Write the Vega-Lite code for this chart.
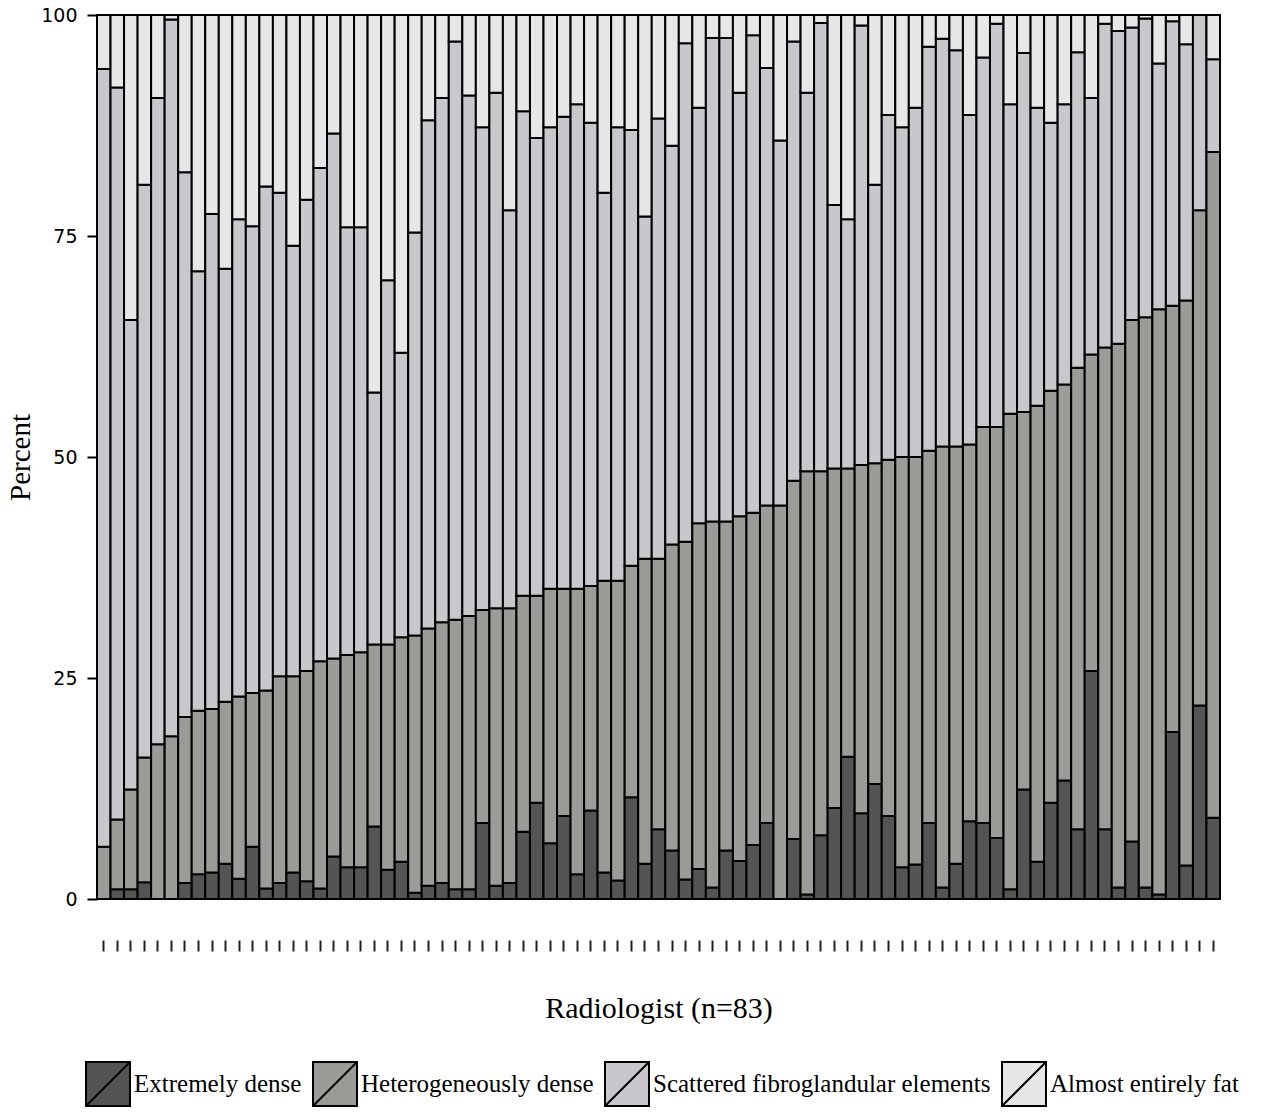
{
  "$schema": "https://vega.github.io/schema/vega-lite/v6.json",
  "width": 1123,
  "height": 884,
  "autosize": {"type": "none"},
  "padding": {"left": 97, "top": 15, "right": 43, "bottom": 214},
  "background": "white",
  "config": {
    "view": {"stroke": "black", "strokeWidth": 2},
    "axis": {"labelColor": "black", "titleColor": "black", "titleFontWeight": "normal", "grid": false}
  },
  "datasets": {
    "cats": [
      {"cat": "Extremely dense", "k": 1},
      {"cat": "Heterogeneously dense", "k": 2},
      {"cat": "Scattered fibroglandular elements", "k": 3},
      {"cat": "Almost entirely fat", "k": 4}
    ]
  },
  "data": {
    "values": [
      {"r":1,"Extremely dense":0,"Heterogeneously dense":5.9,"Scattered fibroglandular elements":88.0,"Almost entirely fat":6.1},
      {"r":2,"Extremely dense":1.1,"Heterogeneously dense":7.9,"Scattered fibroglandular elements":82.8,"Almost entirely fat":8.2},
      {"r":3,"Extremely dense":1.1,"Heterogeneously dense":11.3,"Scattered fibroglandular elements":53.1,"Almost entirely fat":34.5},
      {"r":4,"Extremely dense":1.9,"Heterogeneously dense":14.1,"Scattered fibroglandular elements":64.8,"Almost entirely fat":19.2},
      {"r":5,"Extremely dense":0,"Heterogeneously dense":17.5,"Scattered fibroglandular elements":73.1,"Almost entirely fat":9.4},
      {"r":6,"Extremely dense":0,"Heterogeneously dense":18.4,"Scattered fibroglandular elements":81.1,"Almost entirely fat":0.5},
      {"r":7,"Extremely dense":1.8,"Heterogeneously dense":18.8,"Scattered fibroglandular elements":61.6,"Almost entirely fat":17.8},
      {"r":8,"Extremely dense":2.8,"Heterogeneously dense":18.5,"Scattered fibroglandular elements":49.7,"Almost entirely fat":29.0},
      {"r":9,"Extremely dense":3.0,"Heterogeneously dense":18.5,"Scattered fibroglandular elements":56.0,"Almost entirely fat":22.5},
      {"r":10,"Extremely dense":4.0,"Heterogeneously dense":18.3,"Scattered fibroglandular elements":49.0,"Almost entirely fat":28.7},
      {"r":11,"Extremely dense":2.3,"Heterogeneously dense":20.6,"Scattered fibroglandular elements":54.0,"Almost entirely fat":23.1},
      {"r":12,"Extremely dense":5.9,"Heterogeneously dense":17.4,"Scattered fibroglandular elements":52.8,"Almost entirely fat":23.9},
      {"r":13,"Extremely dense":1.2,"Heterogeneously dense":22.4,"Scattered fibroglandular elements":57.0,"Almost entirely fat":19.4},
      {"r":14,"Extremely dense":1.8,"Heterogeneously dense":23.4,"Scattered fibroglandular elements":54.7,"Almost entirely fat":20.1},
      {"r":15,"Extremely dense":3.0,"Heterogeneously dense":22.2,"Scattered fibroglandular elements":48.7,"Almost entirely fat":26.1},
      {"r":16,"Extremely dense":2.0,"Heterogeneously dense":23.8,"Scattered fibroglandular elements":53.3,"Almost entirely fat":20.9},
      {"r":17,"Extremely dense":1.2,"Heterogeneously dense":25.7,"Scattered fibroglandular elements":55.8,"Almost entirely fat":17.3},
      {"r":18,"Extremely dense":4.8,"Heterogeneously dense":22.4,"Scattered fibroglandular elements":59.4,"Almost entirely fat":13.4},
      {"r":19,"Extremely dense":3.6,"Heterogeneously dense":24.0,"Scattered fibroglandular elements":48.4,"Almost entirely fat":24.0},
      {"r":20,"Extremely dense":3.6,"Heterogeneously dense":24.3,"Scattered fibroglandular elements":48.1,"Almost entirely fat":24.0},
      {"r":21,"Extremely dense":8.2,"Heterogeneously dense":20.6,"Scattered fibroglandular elements":28.5,"Almost entirely fat":42.7},
      {"r":22,"Extremely dense":3.3,"Heterogeneously dense":25.5,"Scattered fibroglandular elements":41.2,"Almost entirely fat":30.0},
      {"r":23,"Extremely dense":4.2,"Heterogeneously dense":25.4,"Scattered fibroglandular elements":32.2,"Almost entirely fat":38.2},
      {"r":24,"Extremely dense":0.7,"Heterogeneously dense":29.1,"Scattered fibroglandular elements":45.6,"Almost entirely fat":24.6},
      {"r":25,"Extremely dense":1.5,"Heterogeneously dense":29.1,"Scattered fibroglandular elements":57.5,"Almost entirely fat":11.9},
      {"r":26,"Extremely dense":1.8,"Heterogeneously dense":29.5,"Scattered fibroglandular elements":59.3,"Almost entirely fat":9.4},
      {"r":27,"Extremely dense":1.1,"Heterogeneously dense":30.5,"Scattered fibroglandular elements":65.4,"Almost entirely fat":3.0},
      {"r":28,"Extremely dense":1.1,"Heterogeneously dense":30.9,"Scattered fibroglandular elements":58.9,"Almost entirely fat":9.1},
      {"r":29,"Extremely dense":8.6,"Heterogeneously dense":24.1,"Scattered fibroglandular elements":54.6,"Almost entirely fat":12.7},
      {"r":30,"Extremely dense":1.5,"Heterogeneously dense":31.4,"Scattered fibroglandular elements":58.3,"Almost entirely fat":8.8},
      {"r":31,"Extremely dense":1.8,"Heterogeneously dense":31.1,"Scattered fibroglandular elements":45.0,"Almost entirely fat":22.1},
      {"r":32,"Extremely dense":7.6,"Heterogeneously dense":26.7,"Scattered fibroglandular elements":54.8,"Almost entirely fat":10.9},
      {"r":33,"Extremely dense":10.9,"Heterogeneously dense":23.4,"Scattered fibroglandular elements":51.8,"Almost entirely fat":13.9},
      {"r":34,"Extremely dense":6.3,"Heterogeneously dense":28.8,"Scattered fibroglandular elements":52.2,"Almost entirely fat":12.7},
      {"r":35,"Extremely dense":9.4,"Heterogeneously dense":25.7,"Scattered fibroglandular elements":53.4,"Almost entirely fat":11.5},
      {"r":36,"Extremely dense":2.8,"Heterogeneously dense":32.3,"Scattered fibroglandular elements":54.8,"Almost entirely fat":10.1},
      {"r":37,"Extremely dense":10.0,"Heterogeneously dense":25.4,"Scattered fibroglandular elements":52.4,"Almost entirely fat":12.2},
      {"r":38,"Extremely dense":3.0,"Heterogeneously dense":33.0,"Scattered fibroglandular elements":43.9,"Almost entirely fat":20.1},
      {"r":39,"Extremely dense":2.1,"Heterogeneously dense":33.9,"Scattered fibroglandular elements":51.3,"Almost entirely fat":12.7},
      {"r":40,"Extremely dense":11.5,"Heterogeneously dense":26.2,"Scattered fibroglandular elements":49.3,"Almost entirely fat":13.0},
      {"r":41,"Extremely dense":4.0,"Heterogeneously dense":34.5,"Scattered fibroglandular elements":38.7,"Almost entirely fat":22.8},
      {"r":42,"Extremely dense":7.9,"Heterogeneously dense":30.6,"Scattered fibroglandular elements":49.8,"Almost entirely fat":11.7},
      {"r":43,"Extremely dense":5.5,"Heterogeneously dense":34.6,"Scattered fibroglandular elements":45.1,"Almost entirely fat":14.8},
      {"r":44,"Extremely dense":2.2,"Heterogeneously dense":38.2,"Scattered fibroglandular elements":56.4,"Almost entirely fat":3.2},
      {"r":45,"Extremely dense":3.4,"Heterogeneously dense":39.1,"Scattered fibroglandular elements":47.0,"Almost entirely fat":10.5},
      {"r":46,"Extremely dense":1.3,"Heterogeneously dense":41.4,"Scattered fibroglandular elements":54.7,"Almost entirely fat":2.6},
      {"r":47,"Extremely dense":5.5,"Heterogeneously dense":37.2,"Scattered fibroglandular elements":54.7,"Almost entirely fat":2.6},
      {"r":48,"Extremely dense":4.3,"Heterogeneously dense":39.0,"Scattered fibroglandular elements":47.9,"Almost entirely fat":8.8},
      {"r":49,"Extremely dense":6.1,"Heterogeneously dense":37.6,"Scattered fibroglandular elements":54.0,"Almost entirely fat":2.3},
      {"r":50,"Extremely dense":8.6,"Heterogeneously dense":35.9,"Scattered fibroglandular elements":49.5,"Almost entirely fat":6.0},
      {"r":51,"Extremely dense":0,"Heterogeneously dense":44.5,"Scattered fibroglandular elements":41.3,"Almost entirely fat":14.2},
      {"r":52,"Extremely dense":6.8,"Heterogeneously dense":40.5,"Scattered fibroglandular elements":49.7,"Almost entirely fat":3.0},
      {"r":53,"Extremely dense":0.5,"Heterogeneously dense":47.9,"Scattered fibroglandular elements":42.8,"Almost entirely fat":8.8},
      {"r":54,"Extremely dense":7.2,"Heterogeneously dense":41.2,"Scattered fibroglandular elements":50.7,"Almost entirely fat":0.9},
      {"r":55,"Extremely dense":10.3,"Heterogeneously dense":38.4,"Scattered fibroglandular elements":29.8,"Almost entirely fat":21.5},
      {"r":56,"Extremely dense":16.1,"Heterogeneously dense":32.6,"Scattered fibroglandular elements":28.2,"Almost entirely fat":23.1},
      {"r":57,"Extremely dense":9.7,"Heterogeneously dense":39.4,"Scattered fibroglandular elements":49.7,"Almost entirely fat":1.2},
      {"r":58,"Extremely dense":13.0,"Heterogeneously dense":36.3,"Scattered fibroglandular elements":31.5,"Almost entirely fat":19.2},
      {"r":59,"Extremely dense":9.4,"Heterogeneously dense":40.3,"Scattered fibroglandular elements":39.0,"Almost entirely fat":11.3},
      {"r":60,"Extremely dense":3.6,"Heterogeneously dense":46.4,"Scattered fibroglandular elements":37.3,"Almost entirely fat":12.7},
      {"r":61,"Extremely dense":3.9,"Heterogeneously dense":46.1,"Scattered fibroglandular elements":39.5,"Almost entirely fat":10.5},
      {"r":62,"Extremely dense":8.6,"Heterogeneously dense":42.1,"Scattered fibroglandular elements":45.7,"Almost entirely fat":3.6},
      {"r":63,"Extremely dense":1.3,"Heterogeneously dense":49.9,"Scattered fibroglandular elements":46.1,"Almost entirely fat":2.7},
      {"r":64,"Extremely dense":4.0,"Heterogeneously dense":47.2,"Scattered fibroglandular elements":44.8,"Almost entirely fat":4.0},
      {"r":65,"Extremely dense":8.8,"Heterogeneously dense":42.6,"Scattered fibroglandular elements":37.3,"Almost entirely fat":11.3},
      {"r":66,"Extremely dense":8.6,"Heterogeneously dense":44.8,"Scattered fibroglandular elements":41.8,"Almost entirely fat":4.8},
      {"r":67,"Extremely dense":6.9,"Heterogeneously dense":46.5,"Scattered fibroglandular elements":45.6,"Almost entirely fat":1.0},
      {"r":68,"Extremely dense":1.1,"Heterogeneously dense":53.8,"Scattered fibroglandular elements":35.0,"Almost entirely fat":10.1},
      {"r":69,"Extremely dense":12.4,"Heterogeneously dense":42.7,"Scattered fibroglandular elements":40.6,"Almost entirely fat":4.3},
      {"r":70,"Extremely dense":4.2,"Heterogeneously dense":51.6,"Scattered fibroglandular elements":33.7,"Almost entirely fat":10.5},
      {"r":71,"Extremely dense":10.9,"Heterogeneously dense":46.6,"Scattered fibroglandular elements":30.3,"Almost entirely fat":12.2},
      {"r":72,"Extremely dense":13.4,"Heterogeneously dense":44.8,"Scattered fibroglandular elements":31.7,"Almost entirely fat":10.1},
      {"r":73,"Extremely dense":7.9,"Heterogeneously dense":52.2,"Scattered fibroglandular elements":35.7,"Almost entirely fat":4.2},
      {"r":74,"Extremely dense":25.8,"Heterogeneously dense":35.8,"Scattered fibroglandular elements":29.0,"Almost entirely fat":9.4},
      {"r":75,"Extremely dense":7.9,"Heterogeneously dense":54.5,"Scattered fibroglandular elements":36.6,"Almost entirely fat":1.0},
      {"r":76,"Extremely dense":1.3,"Heterogeneously dense":61.5,"Scattered fibroglandular elements":35.4,"Almost entirely fat":1.8},
      {"r":77,"Extremely dense":6.5,"Heterogeneously dense":59.0,"Scattered fibroglandular elements":33.1,"Almost entirely fat":1.4},
      {"r":78,"Extremely dense":1.3,"Heterogeneously dense":64.5,"Scattered fibroglandular elements":33.8,"Almost entirely fat":0.4},
      {"r":79,"Extremely dense":0.5,"Heterogeneously dense":66.2,"Scattered fibroglandular elements":27.8,"Almost entirely fat":5.5},
      {"r":80,"Extremely dense":18.9,"Heterogeneously dense":48.2,"Scattered fibroglandular elements":32.2,"Almost entirely fat":0.7},
      {"r":81,"Extremely dense":3.8,"Heterogeneously dense":63.9,"Scattered fibroglandular elements":29.0,"Almost entirely fat":3.3},
      {"r":82,"Extremely dense":21.9,"Heterogeneously dense":56.0,"Scattered fibroglandular elements":22.1,"Almost entirely fat":0},
      {"r":83,"Extremely dense":9.2,"Heterogeneously dense":75.3,"Scattered fibroglandular elements":10.5,"Almost entirely fat":5.0}
    ]
  },
  "transform": [
    {"fold": ["Extremely dense", "Heterogeneously dense", "Scattered fibroglandular elements", "Almost entirely fat"], "as": ["cat", "pct"]},
    {"lookup": "cat", "from": {"data": {"name": "cats"}, "key": "cat", "fields": ["k"]}}
  ],
  "mark": {"type": "bar", "stroke": "black", "strokeWidth": 2, "strokeOpacity": 1},
  "encoding": {
    "x": {
      "field": "r",
      "type": "ordinal",
      "scale": {"paddingInner": 0, "paddingOuter": 0},
      "axis": {
        "title": "Radiologist (n=83)",
        "titleFont": "Liberation Serif",
        "titleFontSize": 30,
        "titlePadding": 41,
        "labels": false,
        "domain": false,
        "offset": 41,
        "tickSize": 11,
        "tickWidth": 2,
        "tickColor": "#222222"
      }
    },
    "y": {
      "field": "pct",
      "type": "quantitative",
      "stack": "zero",
      "scale": {"domain": [0, 100], "nice": false},
      "axis": {
        "title": "Percent",
        "titleFont": "Liberation Serif",
        "titleFontSize": 29,
        "titlePadding": 5,
        "values": [0, 25, 50, 75, 100],
        "labelFont": "DejaVu Sans",
        "labelFontSize": 19,
        "labelPadding": 10,
        "tickSize": 10,
        "tickWidth": 2,
        "tickColor": "black",
        "domainColor": "black",
        "domainWidth": 2
      }
    },
    "color": {
      "field": "cat",
      "type": "nominal",
      "sort": ["Extremely dense", "Heterogeneously dense", "Scattered fibroglandular elements", "Almost entirely fat"],
      "scale": {
        "domain": ["Extremely dense", "Heterogeneously dense", "Scattered fibroglandular elements", "Almost entirely fat"],
        "range": ["#535552", "#9a9c98", "#c8c7cb", "#e7e7e7"]
      },
      "legend": {
        "title": null,
        "orient": "none",
        "direction": "horizontal",
        "legendX": -12,
        "legendY": 1046,
        "symbolType": "M-1,-1H1V1H-1ZM-1,1L1,-1",
        "symbolSize": 1936,
        "symbolStrokeColor": "black",
        "symbolStrokeWidth": 2,
        "symbolOpacity": 1,
        "labelFont": "Liberation Serif",
        "labelFontSize": 25,
        "labelColor": "black",
        "labelOffset": 3,
        "labelLimit": 500,
        "columnPadding": 7
      }
    },
    "order": {"field": "k", "type": "quantitative", "sort": "ascending"}
  }
}
